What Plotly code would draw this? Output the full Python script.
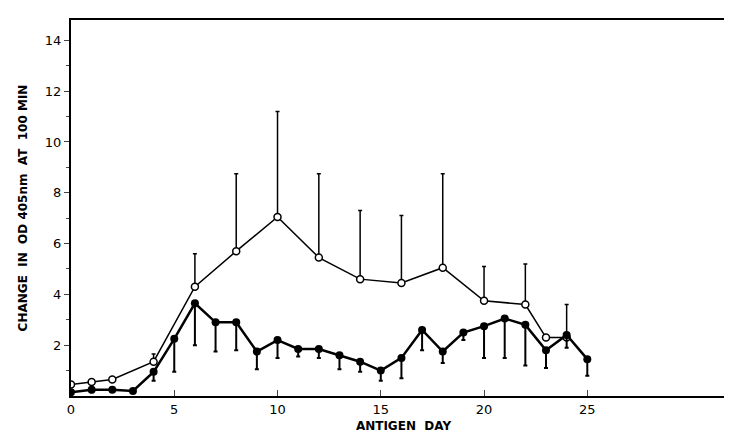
import plotly.graph_objs as go

# open circles
open_day = [0, 1, 2, 4, 6, 8, 10, 12, 14, 16, 18, 20, 22, 23, 24]
open_val = [0.45, 0.55, 0.65, 1.35, 4.3, 5.7, 7.05, 5.45, 4.6, 4.45, 5.05, 3.75, 3.6, 2.3, 2.3]
open_err = [0.1, 0.0, 0.1, 0.3, 1.3, 3.05, 4.15, 3.3, 2.7, 2.65, 3.7, 1.35, 1.6, 0.0, 1.3]

# filled circles
fill_day = list(range(0, 26))
fill_val = [0.15, 0.25, 0.25, 0.2, 0.95, 2.25, 3.65, 2.9, 2.9, 1.75, 2.2, 1.85, 1.85,
            1.6, 1.35, 1.0, 1.5, 2.6, 1.75, 2.5, 2.75, 3.05, 2.8, 1.8, 2.4, 1.45]
fill_err = [0.0, 0.1, 0.0, 0.0, 0.35, 1.3, 1.65, 1.15, 1.1, 0.7, 0.7, 0.3, 0.35,
            0.55, 0.4, 0.4, 0.8, 0.8, 0.45, 0.3, 1.25, 1.55, 1.6, 0.7, 0.5, 0.65]

trace_open = go.Scatter(
    x=open_day, y=open_val, mode='lines+markers',
    line=dict(color='black', width=1.5),
    marker=dict(symbol='circle', size=7, color='white', line=dict(width=1.5, color='black')),
    error_y=dict(type='data', array=open_err, arrayminus=[0]*len(open_err),
                 color='black', thickness=1.5, width=2),
)
trace_fill = go.Scatter(
    x=fill_day, y=fill_val, mode='lines+markers',
    line=dict(color='black', width=2.5),
    marker=dict(symbol='circle', size=8, color='black'),
    error_y=dict(type='data', array=[0]*len(fill_err), arrayminus=fill_err,
                 color='black', thickness=2, width=2),
)

layout = go.Layout(
    width=732, height=441,
    paper_bgcolor='white', plot_bgcolor='white',
    showlegend=False,
    margin=dict(l=63, r=2, t=12, b=53),
    font=dict(family='DejaVu Sans', size=13, color='black'),
    xaxis=dict(range=[0, 32.2], tickvals=[0, 5, 10, 15, 20, 25], ticks='inside',
               ticklen=6, showline=True, linecolor='black', linewidth=2,
               mirror=True, showgrid=False, zeroline=False,
               title=dict(text='<b>ANTIGEN  DAY</b>', font=dict(size=12), standoff=6)),
    yaxis=dict(range=[0, 14.8], tickvals=[2, 4, 6, 8, 10, 12, 14], ticks='outside',
               ticklen=5, showline=True, linecolor='black', linewidth=2,
               mirror=True, showgrid=False, zeroline=False,
               minor=dict(tickvals=[1, 3, 5, 7, 9, 11, 13], ticks='outside', ticklen=3),
               title=dict(text='<b>CHANGE  IN  OD 405nm  AT  100 MIN</b>', font=dict(size=12))),
)

fig = go.Figure(data=[trace_open, trace_fill], layout=layout)
fig.write_html("out.html")
